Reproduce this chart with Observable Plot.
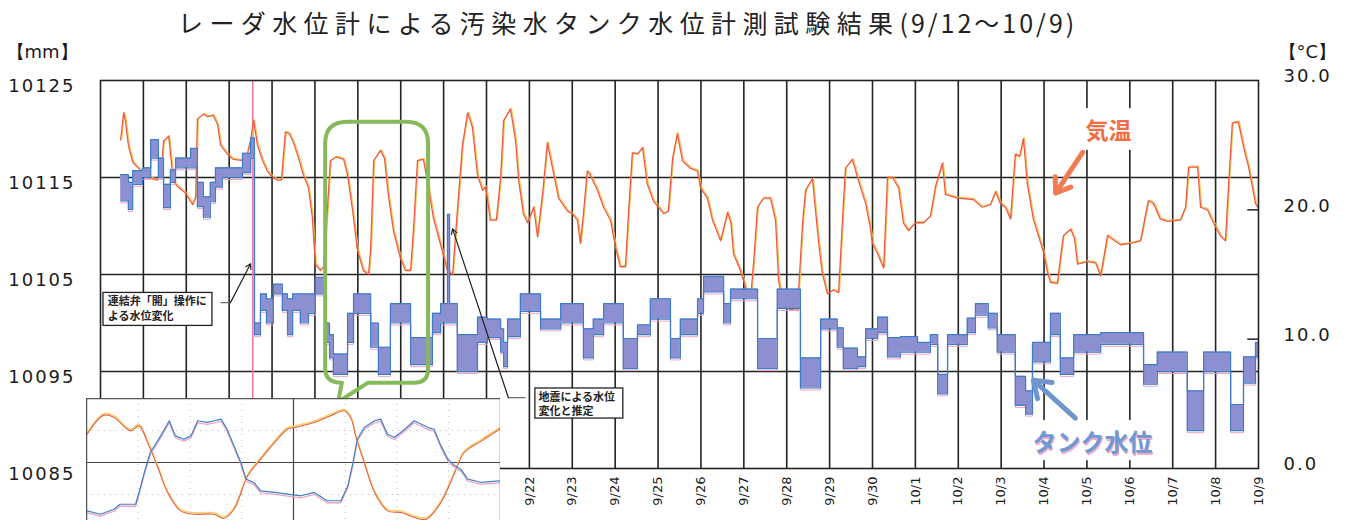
<!DOCTYPE html>
<html><head><meta charset="utf-8">
<script src="https://cdn.jsdelivr.net/npm/d3@7"></script>
<script src="https://cdn.jsdelivr.net/npm/@observablehq/plot@0.6"></script>
<style>
html,body{margin:0;padding:0;background:#fff;}
#wrap{position:relative;width:1348px;height:520px;overflow:hidden;background:#fff;}
#chart{position:absolute;left:0;top:0;}
#inset{position:absolute;left:86px;top:398px;}
#title{position:absolute;left:178px;top:4px;font-family:"Noto Sans CJK JP";font-size:25px;letter-spacing:6.4px;color:#222;white-space:nowrap;line-height:36px;}
#title span{letter-spacing:3px;}
</style></head><body>
<div id="wrap"><div id="chart"></div><div id="inset"></div><div id="title">レーダ水位計による汚染水タンク水位計測試験結果<span>(9/12～10/9)</span></div></div>
<script>
// ---------- data ----------
const dayLabels = ["9/12","9/13","9/14","9/15","9/16","9/17","9/18","9/19","9/20","9/21","9/22","9/23","9/24","9/25","9/26","9/27","9/28","9/29","9/30","10/1","10/2","10/3","10/4","10/5","10/6","10/7","10/8","10/9"];
const xTickDays = [10,11,12,13,14,15,16,17,18,19,20,21,22,23,24,25,26,27];
const dayLines = [1,2,3,4,5,6,7,8,9,10,11,12,13,14,15,16,17,18,19,20,21,22,23,24,25,26];
const mmTicks = [10085,10095,10105,10115,10125];
const gridMm = [10095,10105,10115];
const tempTicks = [0,10,20,30];
const rightTickTemps = [10,20];

// air temperature (°C), time in days since 9/12 0:00
const tempDay = [0.47,0.54,0.58,0.65,0.75,0.86,0.98,1.10,1.33,1.42,1.47,1.59,1.70,1.80,1.98,2.15,2.22,2.26,2.40,2.50,2.63,2.73,2.80,2.96,3.10,3.33,3.43,3.50,3.57,3.66,3.78,3.89,4.01,4.13,4.22,4.31,4.40,4.50,4.62,4.73,4.85,4.94,5.01,5.13,5.20,5.27,5.36,5.50,5.67,5.76,5.88,5.99,6.13,6.25,6.30,6.37,6.53,6.62,6.71,6.83,6.99,7.11,7.23,7.30,7.39,7.53,7.65,7.76,7.93,8.09,8.21,8.32,8.44,8.56,8.67,8.79,8.91,8.98,9.09,9.23,9.33,9.40,9.56,9.68,9.75,9.86,9.96,10.10,10.19,10.31,10.42,10.54,10.68,10.89,11.00,11.12,11.19,11.26,11.35,11.42,11.59,11.73,11.89,12.01,12.12,12.24,12.31,12.40,12.52,12.64,12.75,12.89,13.01,13.13,13.24,13.34,13.45,13.57,13.76,13.92,13.99,14.15,14.27,14.46,14.62,14.70,14.76,14.92,15.04,15.16,15.23,15.32,15.46,15.62,15.74,15.81,15.92,16.09,16.25,16.37,16.44,16.60,16.74,16.83,16.95,17.09,17.21,17.30,17.37,17.53,17.67,17.84,17.95,18.00,18.12,18.26,18.35,18.47,18.61,18.72,18.84,19.00,19.19,19.35,19.47,19.63,19.70,19.98,20.35,20.56,20.75,20.87,20.98,21.10,21.22,21.33,21.43,21.52,21.61,21.75,21.87,21.99,22.08,22.15,22.31,22.38,22.45,22.62,22.71,22.78,23.01,23.20,23.32,23.48,23.78,24.02,24.25,24.36,24.43,24.55,24.71,24.88,25.18,25.30,25.37,25.58,25.65,25.81,25.95,26.11,26.23,26.30,26.39,26.53,26.65,26.77,26.93,26.98];
const tempC = [25.4,27.5,26.9,25.0,23.7,23.3,22.9,22.5,22.3,23.0,25.3,25.7,22.2,21.8,21.3,20.4,21.0,27.0,27.4,27.2,27.3,26.6,25.0,24.3,23.9,23.8,24.4,25.4,26.9,25.0,23.8,23.0,22.5,22.3,22.3,26.0,25.9,25.2,24.0,22.7,21.7,19.4,15.8,15.3,15.6,19.0,23.8,24.1,23.9,22.7,19.9,16.9,15.3,15.0,17.0,23.8,24.6,24.0,21.2,18.4,16.3,15.3,15.3,18.6,23.8,23.9,21.7,19.4,17.3,15.3,15.0,19.9,25.0,27.5,26.4,22.7,21.5,21.8,19.2,19.2,22.5,26.9,27.8,25.3,22.3,19.7,19.0,20.2,17.9,21.3,25.2,23.2,20.9,19.9,19.7,19.2,17.4,19.7,23.0,22.7,21.5,20.2,19.2,17.1,15.6,15.6,19.7,24.4,24.3,24.8,22.0,20.7,20.2,19.7,19.9,24.0,25.9,23.8,23.2,23.0,21.7,20.9,19.2,17.6,19.8,19.0,16.6,15.3,14.0,13.2,16.0,20.2,20.9,20.9,19.2,14.6,12.5,12.3,12.2,19.0,21.5,22.4,17.6,15.1,13.5,13.8,13.6,19.2,23.2,23.9,22.3,20.5,18.6,17.4,16.6,15.5,22.5,22.5,21.7,19.0,18.4,19.0,19.0,19.5,21.8,23.6,21.2,20.9,20.8,20.2,20.4,21.4,20.5,20.2,19.3,24.3,24.1,25.5,22.0,19.3,18.0,16.7,15.2,14.4,14.3,16.2,18.0,18.5,17.8,15.8,16.0,15.9,14.9,18.0,17.3,17.4,17.6,19.5,20.7,20.5,19.3,19.1,19.2,20.2,23.3,23.3,20.2,20.0,19.0,18.0,17.6,21.8,26.7,26.8,24.9,23.3,20.5,20.2];

// tank water level (mm): lower / upper edge of the fluctuating band
const levelDay = [0.47,0.65,0.75,0.98,1.17,1.35,1.47,1.63,1.75,2.10,2.26,2.40,2.56,2.68,2.84,3.31,3.50,3.59,3.73,3.87,4.03,4.24,4.36,4.48,4.66,4.85,5.01,5.25,5.34,5.43,5.76,5.90,6.30,6.48,6.76,7.23,7.74,7.93,8.09,8.14,8.32,8.79,9.02,9.33,9.40,9.49,9.79,10.26,10.73,11.26,11.49,11.73,12.19,12.52,12.82,13.29,13.52,13.92,14.06,14.53,14.69,15.32,15.78,16.32,16.79,17.18,17.32,17.65,17.84,18.12,18.35,18.65,19.05,19.35,19.52,19.75,20.21,20.40,20.70,20.91,21.33,21.57,21.73,22.15,22.38,22.69,23.32,24.32,24.64,25.34,25.72,26.35,26.65,26.93,27.00];
const levelLo = [10112.6,10111.7,10114.3,10115.0,10117.0,10115.0,10111.9,10114.5,10116.0,10116.0,10112.0,10110.9,10112.5,10114.0,10115.0,10115.5,10117.0,10098.8,10101.3,10100.0,10103.0,10101.3,10098.8,10101.3,10100.0,10101.0,10103.0,10098.0,10096.4,10094.7,10098.0,10101.0,10097.5,10094.7,10100.0,10095.7,10099.0,10100.0,10100.0,10100.0,10095.0,10098.0,10098.5,10097.0,10095.5,10098.6,10101.2,10099.4,10100.0,10096.4,10098.8,10100.0,10095.3,10098.8,10100.4,10096.4,10098.8,10101.0,10103.2,10100.0,10102.5,10095.3,10101.5,10093.3,10099.4,10097.5,10095.3,10095.5,10098.4,10099.0,10096.5,10097.0,10097.0,10097.8,10092.7,10097.8,10099.0,10100.8,10099.5,10097.0,10091.5,10090.6,10096.0,10098.8,10094.7,10097.0,10097.8,10093.7,10095.0,10088.9,10095.0,10088.9,10093.8,10096.5,10096.5];
const levelHi = [10115.3,10114.5,10115.7,10116.0,10118.9,10117.0,10114.3,10115.8,10117.0,10118.0,10114.5,10113.0,10114.5,10116.0,10116.0,10117.5,10119.1,10100.0,10103.0,10102.5,10104.0,10103.0,10102.5,10103.0,10103.0,10103.0,10104.7,10100.0,10098.8,10096.8,10101.0,10103.0,10100.0,10097.5,10102.0,10098.5,10101.0,10102.0,10111.2,10102.0,10098.8,10100.6,10100.4,10099.4,10098.0,10100.4,10103.0,10100.4,10102.0,10099.4,10100.4,10102.0,10098.4,10099.8,10102.5,10098.4,10100.4,10102.5,10104.8,10102.0,10103.5,10098.4,10103.5,10096.4,10100.4,10099.5,10097.4,10096.5,10099.4,10100.6,10098.5,10098.6,10098.0,10098.8,10094.7,10098.8,10100.5,10102.0,10101.0,10098.8,10094.5,10093.0,10098.0,10101.0,10096.4,10098.8,10099.0,10095.7,10097.0,10093.0,10097.0,10091.6,10096.5,10098.0,10098.0];

const valveDay = [3.55];

// annotations (data coordinates)
const noteBoxes = [{x1:0.07,x2:2.61,y1:10099.7,y2:10103.1},{x1:10.14,x2:12.19,y1:10090.15,y2:10093.25}];
const noteLines = [
  {d:0.17,mm:10102.2,text:"連結弁「開」操作に"},
  {d:0.17,mm:10100.7,text:"よる水位変化"},
  {d:10.21,mm:10092.3,text:"地震による水位"},
  {d:10.21,mm:10090.9,text:"変化と推定"}
];
const leaderLines = [{x1:2.80,y1:10102.1,x2:3.03,y2:10102.1},{x1:9.91,y1:10092.3,x2:9.51,y2:10092.3}];
const leaderArrows = [{x1:3.03,y1:10102.1,x2:3.50,y2:10106.1},{x1:9.51,y1:10092.3,x2:8.21,y2:10109.7}];
const labelBoxes = [{x1:22.75,x2:24.25,y1:10117.8,y2:10122.1},{x1:21.64,x2:24.71,y1:10085.8,y2:10089.95}];
const seriesLabels = [
  {d:23.50,mm:10119.7,text:"気温",color:"#f26f45",size:23},
  {d:23.13,mm:10087.6,text:"タンク水位",color:"#6c9ad4",size:24}
];
const tempArrow = [{x1:22.90,y1:10117.6,x2:22.27,y2:10113.4}];
const levelArrow = [{x1:22.73,y1:10090.2,x2:21.75,y2:10094.1}];
const callout = {left:5.25,right:7.65,top:10120.7,bottom:10093.8,tailL:5.64,tailR:6.25,tipX:5.55,tipY:10091.8};

// inset (two-day close-up), hours 0..48, relative level 0..100
const insetTempHour = [0.08,2.0,3.2,5.1,6.1,7.0,8.2,9.4,10.9,12.5,14.8,15.9,17.1,18.7,20.2,21.8,23.3,24.1,26.4,28.3,29.9,30.7,31.2,32.2,33.4,34.9,36.5,38.0,39.4,41.1,42.7,43.8,45.8,47.9];
const insetTempVal = [72.1,87.0,85.2,74.7,78.6,66.9,47.4,26.6,12.2,9.6,9.6,6.3,13.5,39.6,52.6,65.6,76.0,77.3,81.3,86.5,90.4,83.9,70.8,50.0,26.6,12.2,10.9,7.0,5.7,18.8,42.2,57.8,66.9,76.0];
const insetLevelHour = [0.08,1.6,3.2,3.9,5.7,6.3,6.7,7.4,8.6,9.6,10.3,11.3,12.1,12.9,14.0,14.8,15.6,16.3,17.1,17.9,18.5,19.4,20.2,21.8,23.3,24.9,26.4,27.9,29.5,30.3,30.9,31.4,32.2,33.4,34.1,34.9,35.7,36.9,38.0,39.6,40.3,41.1,41.9,42.7,43.4,44.2,45.8,47.9];
const insetLevelVal = [12.2,9.6,13.5,17.4,17.4,31.8,42.2,57.8,70.8,82.6,70.8,68.2,70.8,82.6,81.3,82.6,83.9,76.0,63.0,50.0,37.0,34.4,27.9,26.6,25.3,24.0,26.6,20.1,20.1,31.8,50.0,68.2,77.3,82.6,83.9,72.1,69.5,76.0,82.6,77.3,76.0,63.0,52.6,47.4,44.8,37.0,34.4,35.7];
const insetGridHours = [6,12,18,30,36,42];
const insetGridVals = [25,75];

// ---------- build ----------
const toMm = t => 10085 + t * 40 / 30;
const toTemp = mm => (mm - 10085) * 30 / 40;
const temp = tempDay.map((d, i) => ({d, mm: toMm(tempC[i])}));
const level = levelDay.map((d, i) => ({d, lo: levelLo[i], hi: levelHi[i]}));

function calloutMark(index, scales) {
  const x = scales.x, y = scales.y;
  const L = x(callout.left), R = x(callout.right), T = y(callout.top), B = y(callout.bottom);
  const tl = x(callout.tailL), tr = x(callout.tailR), tx = x(callout.tipX), ty = y(callout.tipY);
  const r = 22, rb = 14;
  const p = d3.path();
  p.moveTo(L + r, T); p.lineTo(R - r, T); p.quadraticCurveTo(R, T, R, T + r);
  p.lineTo(R, B - rb); p.quadraticCurveTo(R, B, R - rb, B);
  p.lineTo(tr, B); p.lineTo(tx, ty); p.lineTo(tl, B);
  p.quadraticCurveTo(L, B, L, B - rb);
  p.lineTo(L, T + r); p.quadraticCurveTo(L, T, L + r, T); p.closePath();
  return d3.create("svg:path").attr("d", p.toString()).attr("fill", "none")
    .attr("stroke", "#86b95a").attr("stroke-width", 4).attr("stroke-linejoin", "round").node();
}

const chart = Plot.plot({
  width: 1348, height: 520,
  marginLeft: 100, marginRight: 90, marginTop: 80, marginBottom: 52,
  style: {fontFamily: "DejaVu Sans", fontSize: "13px", color: "#222", background: "transparent"},
  x: {domain: [0, 27], axis: null},
  y: {domain: [10085, 10125], axis: null},
  marks: [
    Plot.ruleY(gridMm, {stroke: "#222", strokeWidth: 1.6}),
    Plot.ruleX(dayLines, {stroke: "#222", strokeWidth: 1.6}),
    Plot.ruleX(valveDay, {stroke: "#ef78a6", strokeWidth: 1.6}),
    Plot.lineY(temp, {x: "d", y: "mm", stroke: "#f5c24a", strokeWidth: 1, dx: 1, dy: -1}),
    Plot.lineY(temp, {x: "d", y: "mm", stroke: "#ee5a3c", strokeWidth: 1.3}),
    Plot.areaY(level, {x: "d", y1: "lo", y2: "hi", curve: "step-after", fill: "#8c90d0"}),
    Plot.lineY(level, {x: "d", y: "lo", curve: "step-after", stroke: "#f2a3c3", strokeWidth: 1, dy: 2}),
    Plot.lineY(level, {x: "d", y: "lo", curve: "step-after", stroke: "#3d7cc9", strokeWidth: 1.2}),
    Plot.lineY(level, {x: "d", y: "hi", curve: "step-after", stroke: "#3d7cc9", strokeWidth: 1.2}),
    Plot.rect(noteBoxes, {x1: "x1", x2: "x2", y1: "y1", y2: "y2", fill: "white", stroke: "#222", strokeWidth: 1.3}),
    Plot.text(noteLines, {x: "d", y: "mm", text: "text", textAnchor: "start", fontSize: 11, fontWeight: "bold", fontFamily: "Noto Sans CJK JP", fill: "#222"}),
    Plot.link(leaderLines, {x1: "x1", y1: "y1", x2: "x2", y2: "y2", stroke: "#666", strokeWidth: 1.2}),
    Plot.arrow(leaderArrows, {x1: "x1", y1: "y1", x2: "x2", y2: "y2", stroke: "#222", strokeWidth: 1.2, headLength: 7}),
    Plot.rect(labelBoxes, {x1: "x1", x2: "x2", y1: "y1", y2: "y2", fill: "white"}),
    Plot.text(seriesLabels.slice(1), {x: "d", y: "mm", text: "text", fill: "#f0a8c8", fontSize: "size", fontWeight: "bold", fontFamily: "Noto Sans CJK JP", dx: 1, dy: 2}),
    Plot.text(seriesLabels, {x: "d", y: "mm", text: "text", fill: "color", fontSize: "size", fontWeight: "bold", fontFamily: "Noto Sans CJK JP"}),
    Plot.arrow(tempArrow, {x1: "x1", y1: "y1", x2: "x2", y2: "y2", stroke: "#f27c52", strokeWidth: 5, headLength: 13, headAngle: 70}),
    Plot.arrow(levelArrow, {x1: "x1", y1: "y1", x2: "x2", y2: "y2", stroke: "#6e96cc", strokeWidth: 5, headLength: 13, headAngle: 70}),
    calloutMark,
    Plot.ruleY(rightTickTemps.map(toMm), {x1: 26.75, x2: 27, stroke: "#222", strokeWidth: 1.5}),
    Plot.frame({stroke: "#222", strokeWidth: 1.6}),
    Plot.axisY(mmTicks, {anchor: "left", tickSize: 0, tickPadding: 25, tickFormat: v => String(v), fontSize: 18, fontFamily: "DejaVu Sans", fill: "#1a1a1a", dy: 6, label: null}),
    Plot.axisY(tempTicks.map(toMm), {anchor: "right", tickSize: 0, tickPadding: 25, tickFormat: v => toTemp(v).toFixed(1), fontSize: 18, fontFamily: "DejaVu Sans", fill: "#1a1a1a", dy: -4, label: null}),
    Plot.axisX(xTickDays, {anchor: "bottom", tickSize: 0, tickPadding: 8, tickRotate: -90, tickFormat: d => dayLabels[d], fontSize: 13, fontFamily: "DejaVu Sans", fill: "#1a1a1a", label: null}),
    Plot.text(["【mm】"], {frameAnchor: "top-left", dx: -94, dy: -35, textAnchor: "start", fontSize: 18, fontFamily: "DejaVu Sans", fill: "#1a1a1a"}),
    Plot.text(["【°C】"], {frameAnchor: "top-right", dx: 20, dy: -35, textAnchor: "start", fontSize: 18, fontFamily: "DejaVu Sans", fill: "#1a1a1a"})
  ]
});
d3.select(chart).selectAll('g[aria-label="y-axis tick label"] text').style("letter-spacing", "2px");
document.getElementById("chart").append(chart);

const insetTemp = insetTempHour.map((h, i) => ({h, v: insetTempVal[i]}));
const insetLevel = insetLevelHour.map((h, i) => ({h, v: insetLevelVal[i]}));
const inset = Plot.plot({
  width: 414, height: 128, margin: 0,
  style: {background: "#fff"},
  x: {domain: [0, 48], axis: null},
  y: {domain: [0, 100], axis: null},
  marks: [
    Plot.ruleX(insetGridHours, {stroke: "#bbb", strokeDasharray: "1,5"}),
    Plot.ruleY(insetGridVals, {stroke: "#bbb", strokeDasharray: "1,5"}),
    Plot.ruleX([24], {stroke: "#444", strokeWidth: 1.2}),
    Plot.ruleY([50], {stroke: "#444", strokeWidth: 1.2}),
    Plot.lineY(insetTemp, {x: "h", y: "v", stroke: "#f7d36a", strokeWidth: 1.5, dy: -1.5, curve: "catmull-rom"}),
    Plot.lineY(insetTemp, {x: "h", y: "v", stroke: "#e8604a", strokeWidth: 1.1, curve: "catmull-rom"}),
    Plot.lineY(insetLevel, {x: "h", y: "v", stroke: "#f2a3c3", strokeWidth: 1.3, dy: 2}),
    Plot.lineY(insetLevel, {x: "h", y: "v", stroke: "#3b82c8", strokeWidth: 1.2}),
    Plot.frame({stroke: "#555", strokeWidth: 1.5})
  ]
});
document.getElementById("inset").append(inset);
</script>
</body></html>
